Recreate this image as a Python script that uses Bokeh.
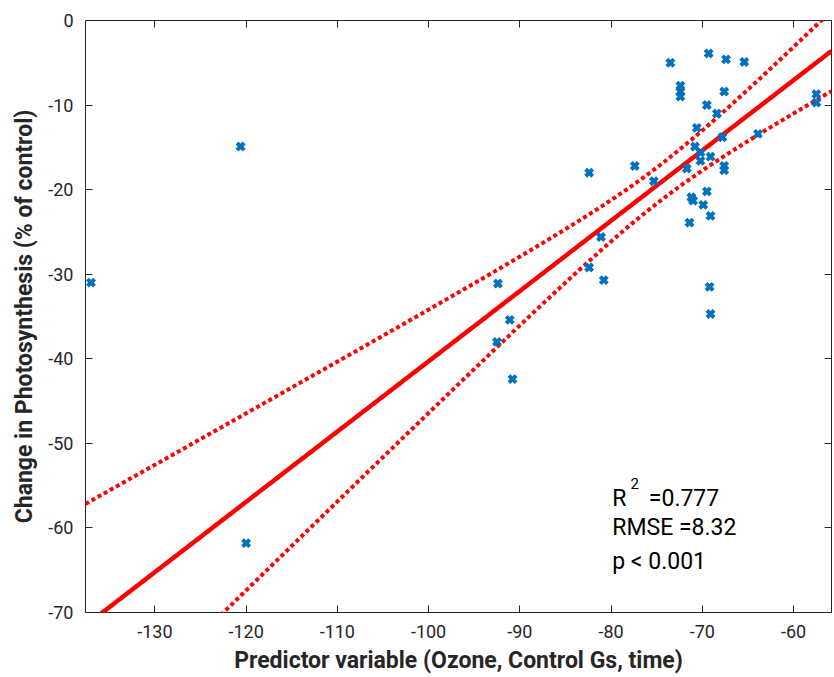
import numpy as np
from bokeh.plotting import figure
from bokeh.models import Range1d, LinearAxis, FixedTicker, Label, ColumnDataSource
from bokeh.embed import file_html
from bokeh.resources import INLINE

# ---- data ----
x_pred = [-137.0, -120.6, -120.0, -92.4, -92.5, -91.1, -90.8, -82.4, -82.4, -81.1,
          -80.8, -77.4, -75.3, -73.5, -72.4, -72.4, -72.4, -71.7, -71.4, -71.2,
          -71.0, -70.8, -70.6, -70.2, -70.2, -69.9, -69.5, -69.5, -69.3, -69.2,
          -69.1, -69.1, -69.1, -68.4, -67.8, -67.6, -67.6, -67.6, -67.4, -65.4,
          -63.9, -57.5, -57.5]
y_change = [-31.0, -14.9, -61.8, -31.1, -38.0, -35.4, -42.4, -18.0, -29.2, -25.6,
            -30.7, -17.2, -19.0, -5.0, -7.7, -8.4, -9.0, -17.5, -23.9, -20.9,
            -21.3, -14.9, -12.7, -15.6, -16.6, -21.8, -10.0, -20.2, -3.9, -31.5,
            -16.1, -23.1, -34.7, -11.0, -13.8, -8.4, -17.2, -17.7, -4.6, -4.9,
            -13.4, -8.7, -9.7]

# regression model
fit_slope = 0.831
fit_intercept = 42.8
band_a = 4.53
band_b = 0.0511
band_center = -74.65

x_limits = [-137.6, -55.84]
y_limits = [-70, 0]
x_ticks = [-130, -120, -110, -100, -90, -80, -70, -60]
y_ticks = [0, -10, -20, -30, -40, -50, -60, -70]
x_tick_labels = ["-130", "-120", "-110", "-100", "-90", "-80", "-70", "-60"]
y_tick_labels = ["0", "-10", "-20", "-30", "-40", "-50", "-60", "-70"]

stats_r2 = "=0.777"
stats_rmse = "RMSE =8.32"
stats_p = "p < 0.001"

# ---- figure ----
p = figure(frame_width=746, frame_height=592,
           min_border_left=85, min_border_right=3, min_border_top=20, min_border_bottom=65,
           x_range=Range1d(*x_limits), y_range=Range1d(*y_limits),
           output_backend="svg", toolbar_location=None,
           background_fill_color="white", border_fill_color="white")
p.grid.visible = False
p.outline_line_color = "#262626"
p.outline_line_width = 1

xs = np.linspace(x_limits[0], x_limits[1], 300)
fit = fit_slope * xs + fit_intercept
half = np.sqrt(band_a + band_b * (xs - band_center) ** 2)

p.line(xs, fit + half, line_color="#ff0000", line_width=4, line_dash="4 3")
p.line(xs, fit - half, line_color="#ff0000", line_width=4, line_dash="4 3")
p.line(xs, fit, line_color="#ff0000", line_width=4.5)

src = ColumnDataSource(dict(x=x_pred, y=y_change))
p.scatter("x", "y", source=src, marker="x", size=10, line_width=4,
          line_color="#0072BD")

def style_axis(ax, labels=True):
    ax.axis_line_color = None
    ax.major_tick_in = 7
    ax.major_tick_out = 0
    ax.major_tick_line_color = "#262626"
    ax.minor_tick_line_color = None
    ax.major_label_text_font = "Roboto"
    if labels:
        ax.major_label_text_color = "#262626"
        ax.major_label_text_font_size = "18px"
        ax.major_label_standoff = 12
    else:
        ax.major_label_text_color = None
        ax.major_label_text_font_size = "0px"
        ax.major_label_standoff = 0

p.xaxis.ticker = FixedTicker(ticks=x_ticks)
p.yaxis.ticker = FixedTicker(ticks=y_ticks)
p.xaxis.major_label_overrides = dict(zip(x_ticks, x_tick_labels))
p.yaxis.major_label_overrides = dict(zip(y_ticks, y_tick_labels))
style_axis(p.xaxis[0])
style_axis(p.yaxis[0])

p.xaxis.axis_label = "Predictor variable (Ozone, Control Gs, time)"
p.yaxis.axis_label = "Change in Photosynthesis (% of control)"
for ax in (p.xaxis[0], p.yaxis[0]):
    ax.axis_label_text_font = "Roboto"
    ax.axis_label_text_font_style = "bold"
    ax.axis_label_text_font_size = "23px"
    ax.axis_label_text_color = "#262626"
p.xaxis.axis_label_standoff = 6
p.yaxis.axis_label_standoff = 7

top_ax = LinearAxis(ticker=FixedTicker(ticks=x_ticks))
right_ax = LinearAxis(ticker=FixedTicker(ticks=y_ticks))
style_axis(top_ax, labels=False)
style_axis(right_ax, labels=False)
p.add_layout(top_ax, "above")
p.add_layout(right_ax, "right")

lab_kw = dict(text_font="Roboto", text_color="#000000", text_baseline="alphabetic")
p.add_layout(Label(x=-79.87, y=-56.5, text="R", text_font_size="23px", **lab_kw))
p.add_layout(Label(x=-77.86, y=-54.7, text="2", text_font_size="15px", **lab_kw))
p.add_layout(Label(x=-75.86, y=-56.5, text=stats_r2, text_font_size="23px", **lab_kw))
p.add_layout(Label(x=-79.87, y=-59.97, text=stats_rmse, text_font_size="23px", **lab_kw))
p.add_layout(Label(x=-79.87, y=-63.96, text=stats_p, text_font_size="23px", **lab_kw))

open("out.html", "w").write(file_html(p, INLINE))
